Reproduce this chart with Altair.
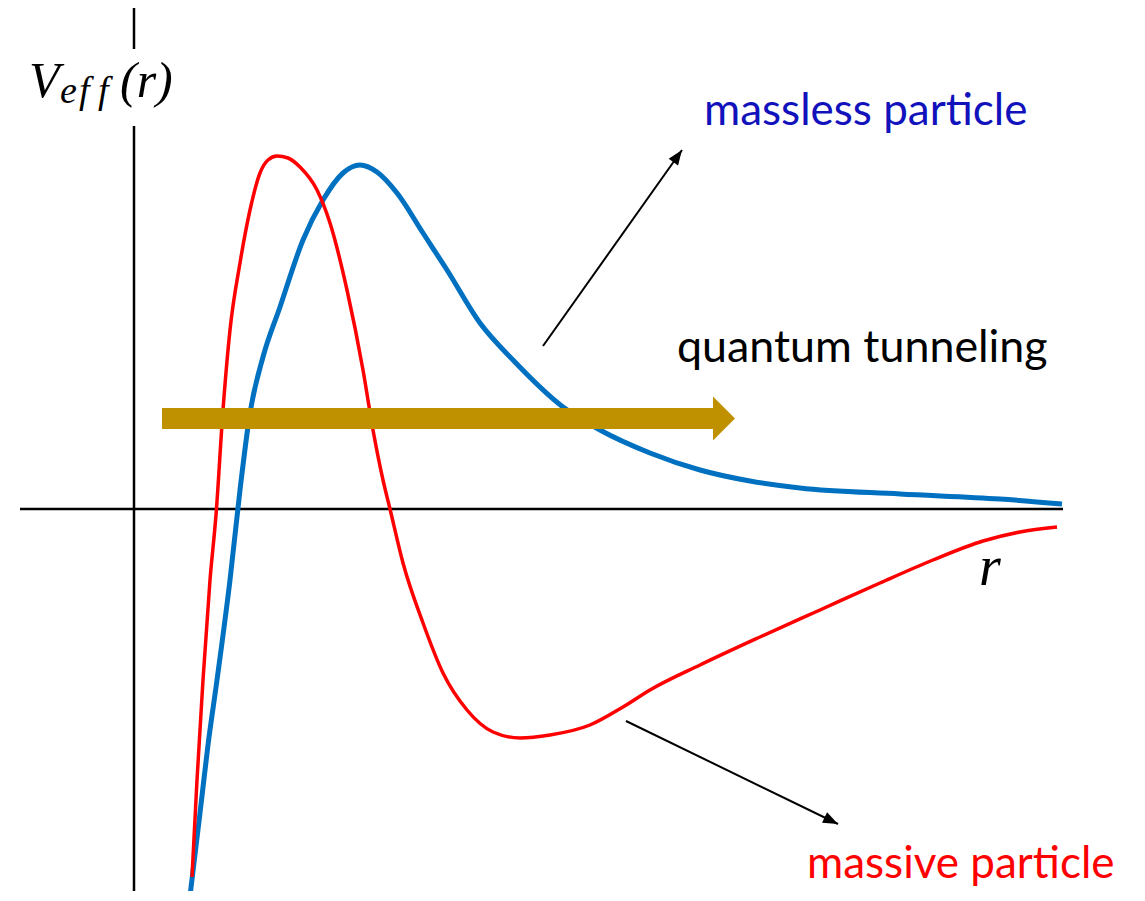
import math
import altair as alt
import pandas as pd

# ---- values (origin at the axes crossing, r to the right, V up)
red_r = [58, 63, 69, 76, 82, 89, 96, 106, 116, 126, 134, 143, 154, 166, 183, 196, 213, 229, 239, 249,
         256, 269, 289, 309, 333, 359, 386, 416, 456, 489, 516, 566, 626, 686, 746, 799, 849, 886, 923]
red_v = [-368, -271, -171, -71, -6, 99, 179, 246, 299, 336, 349, 353, 351, 342, 319, 286, 219, 139, 79, 29,
         0, -54, -114, -164, -201, -223, -229, -226, -216, -198, -181, -156, -128, -101, -74, -51, -32, -23, -18]

blue_r = [56, 66, 74, 83, 96, 106, 116, 129, 146, 169, 189, 209, 226, 243, 263, 289, 313, 346, 379, 429,
          466, 516, 566, 616, 666, 766, 866, 928]
blue_v = [-387, -304, -236, -171, -71, 19, 96, 152, 202, 269, 309, 336, 344, 337, 316, 276, 239, 186, 149, 102,
          79, 56, 39, 28, 21, 15, 10, 5]

# axis segments
axis_r = [0, 0, -114]
axis_r2 = [0, 0, 929]
axis_v = [502, 383, 0]
axis_v2 = [460, -388, 0]

# tunneling arrow
tunnel_r = [28]
tunnel_r2 = [579]
tunnel_v = [90.5]

# pointer arrows (tail -> tip)
ptr_r = [409, 492]
ptr_v = [163, -212]
ptr_r2 = [548, 704]
ptr_v2 = [359, -315]

# labels
lab_text = ["massless particle", "quantum tunneling", "massive particle"]
lab_r = [570, 543, 673]
lab_v = [384, 147, -369]
lab_size = [44, 44.8, 44]
lab_color = ["#1212BC", "#000000", "#FF0000"]

math_text = ["V", "e", "f", "f", "(r)", "r"]
math_r = [-105, -74, -55, -36, -14, 845]
math_v = [412, 406, 406, 406, 412, -76]
math_size = [50, 38, 38, 38, 50, 56]

W, H = 1129, 883
R_MIN, V_MAX = -126, 501
xs = alt.Scale(domain=[R_MIN, R_MIN + W], nice=False, zero=False)
ys = alt.Scale(domain=[V_MAX - H, V_MAX], nice=False, zero=False)

def X(f="r"):
    return alt.X(f"{f}:Q", scale=xs, axis=None)

def Y(f="v"):
    return alt.Y(f"{f}:Q", scale=ys, axis=None)

axes_df = pd.DataFrame({"r": axis_r, "r2": axis_r2, "v": axis_v, "v2": axis_v2})
axes = alt.Chart(axes_df).mark_rule(color="black", strokeWidth=2.5, strokeCap="butt").encode(
    x=X(), x2="r2:Q", y=Y(), y2="v2:Q")

blue = alt.Chart(pd.DataFrame({"r": blue_r, "v": blue_v})).mark_line(
    color="#0070C0", strokeWidth=5, interpolate="monotone", strokeCap="butt").encode(x=X(), y=Y())
red = alt.Chart(pd.DataFrame({"r": red_r, "v": red_v})).mark_line(
    color="#FF0000", strokeWidth=3.5, interpolate="monotone", strokeCap="butt").encode(x=X(), y=Y())

gold = "#BF9000"
tdf = pd.DataFrame({"r": tunnel_r, "r2": tunnel_r2, "v": tunnel_v})
tbar = alt.Chart(tdf).mark_rule(color=gold, strokeWidth=21, strokeCap="butt").encode(
    x=X(), x2="r2:Q", y=Y())
thead = alt.Chart(tdf).mark_point(shape="M0,-1L1,0L0,1Z", filled=True, size=1936, color=gold,
                                  opacity=1, strokeWidth=0).encode(x=X("r2"), y=Y())

pdf = pd.DataFrame({"r": ptr_r, "v": ptr_v, "r2": ptr_r2, "v2": ptr_v2})
plines = alt.Chart(pdf).mark_rule(color="black", strokeWidth=2, strokeCap="butt").encode(
    x=X(), x2="r2:Q", y=Y(), y2="v2:Q")
heads = []
for a, b, c, d in zip(ptr_r, ptr_v, ptr_r2, ptr_v2):
    ang = math.degrees(math.atan2(c - a, d - b)) % 360
    heads.append(alt.Chart(pd.DataFrame({"r": [c], "v": [d]})).mark_point(
        shape="M0,0L-0.5,1.3L0.5,1.3Z", filled=True, size=529, color="black", opacity=1,
        strokeWidth=0, angle=ang).encode(x=X(), y=Y()))

ldf = pd.DataFrame({"r": lab_r, "v": lab_v, "t": lab_text, "c": lab_color, "s": lab_size})
labels = alt.Chart(ldf).mark_text(font="Lato", align="left", baseline="alphabetic").encode(
    x=X(), y=Y(), text="t:N", color=alt.Color("c:N", scale=None),
    size=alt.Size("s:Q", scale=None, legend=None))

mdf = pd.DataFrame({"r": math_r, "v": math_v, "t": math_text, "s": math_size})
mlabels = alt.Chart(mdf).mark_text(font="Liberation Serif", fontStyle="italic", align="left",
                                   baseline="alphabetic", color="black").encode(
    x=X(), y=Y(), text="t:N", size=alt.Size("s:Q", scale=None, legend=None))

chart = alt.layer(axes, blue, red, tbar, thead, plines, *heads, labels, mlabels).properties(
    width=W, height=H, padding=0, autosize=alt.AutoSizeParams(type="none"), background="white"
).configure_view(stroke=None)

chart.save("out.html", embed_options={"renderer": "svg", "actions": False})
